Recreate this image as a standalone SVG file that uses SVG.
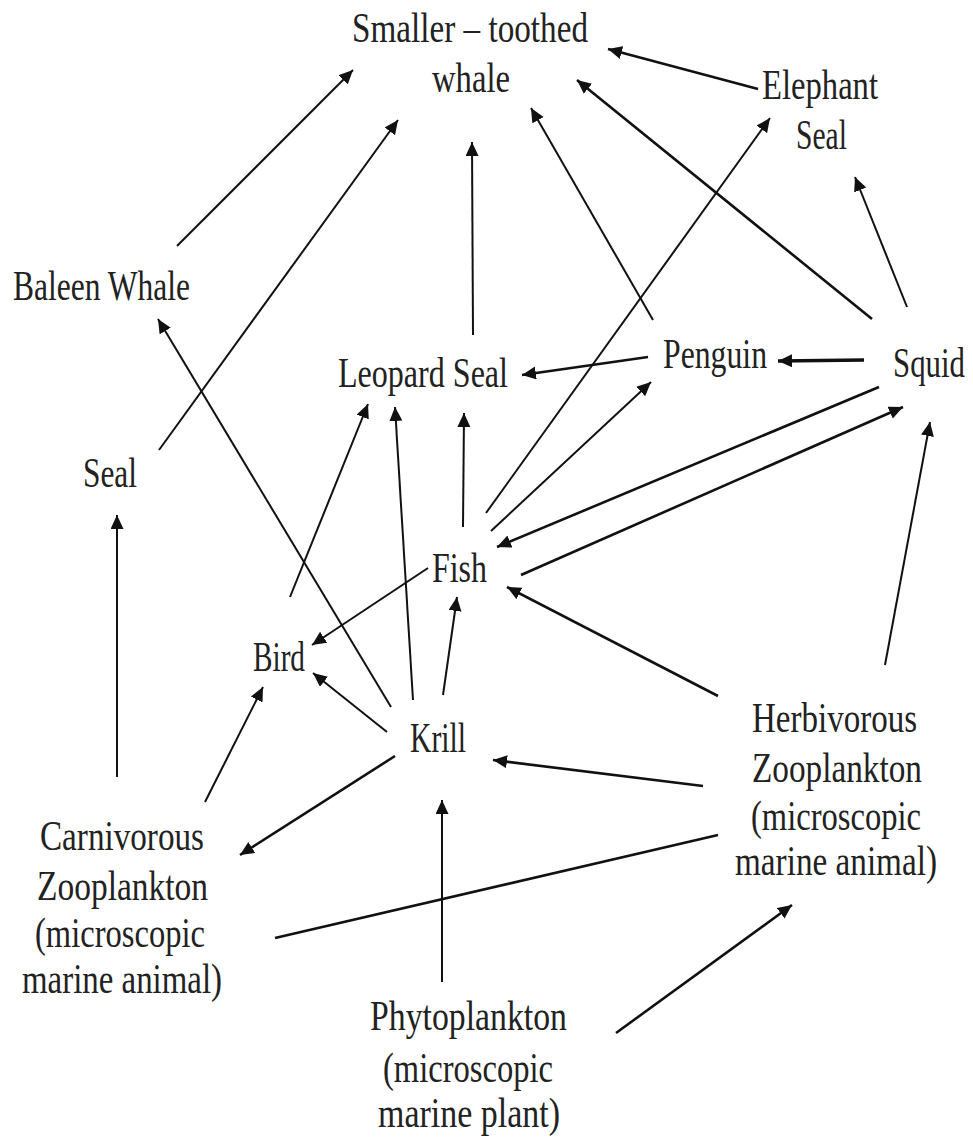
<svg xmlns="http://www.w3.org/2000/svg" width="973" height="1139" viewBox="0 0 973 1139">
<style>
text{font-family:"Liberation Serif","Times New Roman",serif;font-size:42px;fill:#222}
.c line{stroke:#111;stroke-width:2;fill:none}
.c line.a{marker-end:url(#ah)}
.c line.t{stroke-width:2.6}
.c line.tt{stroke-width:3.4}
</style>
<defs>
<marker id="ah" markerUnits="userSpaceOnUse" markerWidth="16" markerHeight="14" refX="14" refY="6.5" orient="auto" viewBox="0 0 16 14">
<path d="M0,0 L14,6.5 L0,13 Z" fill="#111"/>
</marker>
</defs>
<rect width="973" height="1139" fill="#fff"/>
<g class="c" id="connectors">
<line class="a" x1="177" y1="246" x2="353" y2="70"/>
<line class="a" x1="159" y1="450" x2="398" y2="120"/>
<line class="a" x1="473" y1="335" x2="472" y2="142"/>
<line class="a" x1="653" y1="320" x2="531" y2="108"/>
<line class="a t" x1="872" y1="319" x2="577" y2="80"/>
<line class="a t" x1="758" y1="89" x2="608" y2="49"/>
<line class="a" x1="486" y1="513" x2="770" y2="118"/>
<line class="a" x1="907" y1="307" x2="855" y2="177"/>
<line class="a tt" x1="864" y1="360" x2="778" y2="361"/>
<line class="a t" x1="648" y1="357" x2="522" y2="375"/>
<line class="a" x1="491" y1="531" x2="651" y2="382"/>
<line class="a t" x1="879" y1="387" x2="497" y2="547"/>
<line class="a t" x1="521" y1="575" x2="903" y2="407"/>
<line class="a" x1="885" y1="665" x2="930" y2="422"/>
<line class="a" x1="463" y1="527" x2="464" y2="413"/>
<line class="a" x1="290" y1="597" x2="368" y2="404"/>
<line class="a" x1="413" y1="700" x2="395" y2="407"/>
<line class="a" x1="391" y1="707" x2="158" y2="319"/>
<line class="a" x1="428" y1="568" x2="312" y2="645"/>
<line class="a" x1="387" y1="732" x2="313" y2="673"/>
<line class="a" x1="443" y1="695" x2="457" y2="597"/>
<line class="a t" x1="718" y1="696" x2="507" y2="587"/>
<line class="a t" x1="703" y1="786" x2="493" y2="760"/>
<line class="t" x1="275" y1="938" x2="718" y2="835"/>
<line class="a t" x1="616" y1="1033" x2="792" y2="905"/>
<line class="a" x1="442" y1="982" x2="442" y2="800"/>
<line class="a t" x1="395" y1="756" x2="240" y2="855"/>
<line class="a" x1="205" y1="802" x2="263" y2="687"/>
<line class="a" x1="117" y1="777" x2="117" y2="515"/>
</g>
<g id="smaller-toothed-whale">
<text x="352" y="42" textLength="236" lengthAdjust="spacingAndGlyphs">Smaller – toothed</text>
<text x="432" y="92" textLength="78" lengthAdjust="spacingAndGlyphs">whale</text>
</g>
<g id="elephant-seal">
<text x="762" y="99" textLength="116" lengthAdjust="spacingAndGlyphs">Elephant</text>
<text x="796" y="149" textLength="51" lengthAdjust="spacingAndGlyphs">Seal</text>
</g>
<g id="baleen-whale">
<text x="13" y="300" textLength="177" lengthAdjust="spacingAndGlyphs">Baleen Whale</text>
</g>
<g id="leopard-seal">
<text x="338" y="387" textLength="170" lengthAdjust="spacingAndGlyphs">Leopard Seal</text>
</g>
<g id="penguin">
<text x="663" y="368" textLength="104" lengthAdjust="spacingAndGlyphs">Penguin</text>
</g>
<g id="squid">
<text x="893" y="377" textLength="72" lengthAdjust="spacingAndGlyphs">Squid</text>
</g>
<g id="seal">
<text x="83" y="487" textLength="54" lengthAdjust="spacingAndGlyphs">Seal</text>
</g>
<g id="fish">
<text x="432" y="582" textLength="55" lengthAdjust="spacingAndGlyphs">Fish</text>
</g>
<g id="bird">
<text x="253" y="671" textLength="52" lengthAdjust="spacingAndGlyphs">Bird</text>
</g>
<g id="krill">
<text x="410" y="752" textLength="56" lengthAdjust="spacingAndGlyphs">Krill</text>
</g>
<g id="herbivorous-zooplankton">
<text x="752" y="732" textLength="165" lengthAdjust="spacingAndGlyphs">Herbivorous</text>
<text x="752" y="782" textLength="170" lengthAdjust="spacingAndGlyphs">Zooplankton</text>
<text x="751" y="830" textLength="170" lengthAdjust="spacingAndGlyphs">(microscopic</text>
<text x="735" y="875" textLength="202" lengthAdjust="spacingAndGlyphs">marine animal)</text>
</g>
<g id="carnivorous-zooplankton">
<text x="40" y="850" textLength="164" lengthAdjust="spacingAndGlyphs">Carnivorous</text>
<text x="37" y="900" textLength="171" lengthAdjust="spacingAndGlyphs">Zooplankton</text>
<text x="35" y="947" textLength="170" lengthAdjust="spacingAndGlyphs">(microscopic</text>
<text x="22" y="993" textLength="200" lengthAdjust="spacingAndGlyphs">marine animal)</text>
</g>
<g id="phytoplankton">
<text x="370" y="1030" textLength="197" lengthAdjust="spacingAndGlyphs">Phytoplankton</text>
<text x="383" y="1082" textLength="170" lengthAdjust="spacingAndGlyphs">(microscopic</text>
<text x="378" y="1127" textLength="182" lengthAdjust="spacingAndGlyphs">marine plant)</text>
</g>
</svg>
